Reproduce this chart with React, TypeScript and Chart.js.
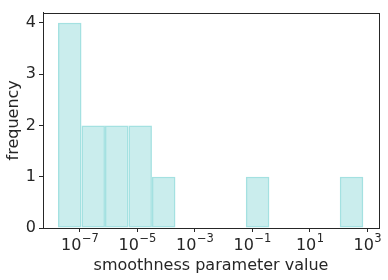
import React, { useEffect, useRef } from "react";
import { Chart, registerables } from "chart.js";

Chart.register(...registerables);

// log10 of bin centres (histogram of smoothness parameter values)
const binCenters = [-7.347, -6.530, -5.713, -4.897, -4.080, -3.264, -2.447, -1.631, -0.814, 0.003, 0.819, 1.636, 2.452];
const frequencies = [4, 2, 2, 2, 1, 0, 0, 0, 1, 0, 0, 0, 1];
const xTickExponents = [-7, -5, -3, -1, 1, 3];
const yTickValues = [0, 1, 2, 3, 4];

const FONT = "'DejaVu Sans', sans-serif";
const INK = "#262626";

const frame = {
  id: "frame",
  afterDraw(chart: any) {
    const { ctx, chartArea: a } = chart;
    ctx.save();
    ctx.strokeStyle = INK;
    ctx.lineWidth = 1;
    ctx.strokeRect(Math.round(a.left) + 0.5, Math.round(a.top) + 0.5, Math.round(a.right - a.left), Math.round(a.bottom - a.top));
    // power-of-ten tick labels with raised exponents
    const xs = chart.scales.x;
    const base = "10";
    for (const e of xTickExponents) {
      const px = xs.getPixelForValue(e);
      const exp = (e < 0 ? "\u2212" : "") + Math.abs(e);
      ctx.font = `16px ${FONT}`;
      const wb = ctx.measureText(base).width;
      ctx.font = `11.5px ${FONT}`;
      const we = ctx.measureText(exp).width;
      const x0 = px - (wb + we) / 2;
      const baseY = a.bottom + 22;
      ctx.fillStyle = INK;
      ctx.textAlign = "left";
      ctx.textBaseline = "alphabetic";
      ctx.font = `16px ${FONT}`;
      ctx.fillText(base, x0, baseY);
      ctx.font = `11.5px ${FONT}`;
      ctx.fillText(exp, x0 + wb + 0.5, baseY - 8);
    }
    ctx.restore();
  },
};

export default function App() {
  const ref = useRef<HTMLCanvasElement>(null);
  useEffect(() => {
    document.body.style.margin = "0";
    const chart = new Chart(ref.current!, {
      type: "bar",
      data: {
        datasets: [
          {
            data: binCenters.map((x, i) => ({ x, y: frequencies[i] })),
            backgroundColor: "rgba(64,192,192,0.28)",
            borderColor: "rgba(64,192,192,0.48)",
            borderWidth: 1.5,
            borderSkipped: false,
            inflateAmount: 0,
            barPercentage: 1,
            categoryPercentage: 1,
          },
        ],
      },
      plugins: [frame],
      options: {
        responsive: false,
        animation: false,
        layout: { padding: { top: 11, right: 9, left: 0, bottom: 0 } },
        plugins: { legend: { display: false }, tooltip: { enabled: false } },
        scales: {
          x: {
            type: "linear",
            offset: false,
            min: -8.277,
            max: 3.407,
            afterBuildTicks: (s: any) => {
              s.ticks = xTickExponents.map((v) => ({ value: v }));
            },
            afterFit: (s: any) => {
              s.height = 52;
            },
            grid: { offset: false, drawOnChartArea: false, drawTicks: true, tickLength: 4, color: INK },
            border: { display: true, color: INK },
            ticks: { display: false },
            title: {
              display: true,
              text: "smoothness parameter value",
              color: INK,
              font: { family: FONT, size: 16 },
              padding: { top: 0, bottom: 5 },
            },
          },
          y: {
            min: 0,
            max: 4.2,
            afterBuildTicks: (s: any) => {
              s.ticks = yTickValues.map((v) => ({ value: v }));
            },
            afterFit: (s: any) => {
              s.width = 43;
            },
            grid: { offset: false, drawOnChartArea: false, drawTicks: true, tickLength: 4, color: INK },
            border: { display: true, color: INK },
            ticks: {
              color: INK,
              padding: 3,
              font: { family: FONT, size: 16 },
            },
            title: {
              display: true,
              text: "frequency",
              color: INK,
              font: { family: FONT, size: 16 },
              padding: { top: 4, bottom: 0 },
            },
          },
        },
      },
    });
    return () => chart.destroy();
  }, []);
  return (
    <div style={{ width: 388, height: 280 }}>
      <canvas ref={ref} width={388} height={280} />
    </div>
  );
}
